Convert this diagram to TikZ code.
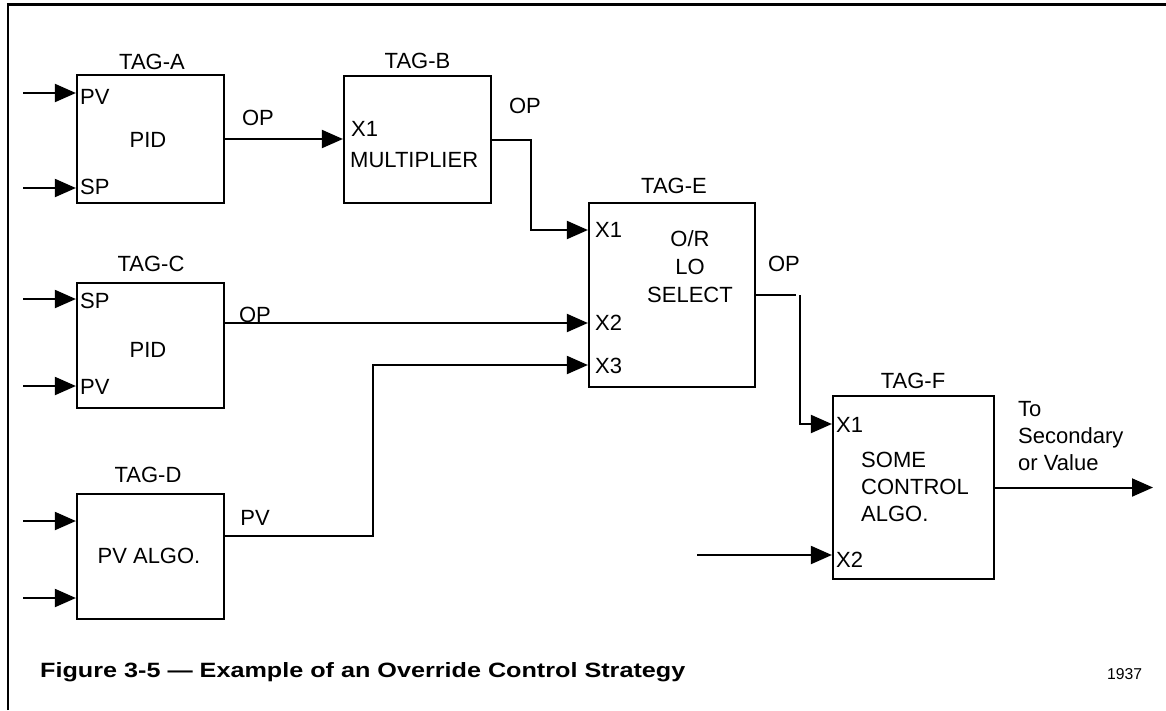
\documentclass[tikz,border=0pt]{standalone}
\usepackage{fontspec}
\usepackage{graphicx}
\setmainfont{Liberation Sans}
\usetikzlibrary{arrows.meta}
\begin{document}
\begin{tikzpicture}[x=1pt,y=-1pt,
  box/.style={draw,line width=2.2pt,inner sep=0pt},
  txt/.style={font=\fontsize{22}{27}\selectfont,inner sep=0pt,anchor=base},
  port/.style={txt,anchor=base west},
  wire/.style={line width=2pt},
  arr/.style={line width=2pt,-{Triangle[length=21pt,width=18pt]}},
  frame/.style={line width=2.6pt}]
\useasboundingbox (0,0) rectangle (1166,710);
% frame
\coordinate (f1) at (8,710);
\coordinate (f2) at (8,4);
\coordinate (f3) at (1166,4);
\draw[frame,line width=2.4pt] (f1) -- (8,3);
\draw[frame,line width=3pt] (6.8,4.5) -- (1166,4.5);
% boxes
\node[box,minimum width=147pt,minimum height=128pt] (A) at (150.5,139) {};
\node[box,minimum width=147pt,minimum height=127pt] (B) at (417.5,139.5) {};
\node[box,minimum width=147pt,minimum height=125pt] (C) at (150.5,345.5) {};
\node[box,minimum width=147pt,minimum height=125pt] (D) at (150.5,556.5) {};
\node[box,minimum width=166pt,minimum height=184pt] (E) at (672,295) {};
\node[box,minimum width=161pt,minimum height=183pt] (F) at (913.5,487.5) {};
% tag labels
\node[txt] (tA) at (152,69) {TAG-A};
\node[txt] (tB) at (417.5,68) {TAG-B};
\node[txt] (tC) at (151,271) {TAG-C};
\node[txt] (tD) at (148,482) {TAG-D};
\node[txt] (tE) at (674,193) {TAG-E};
\node[txt] (tF) at (913,388) {TAG-F};
% box contents
\node[txt] (pidA) at (148,147) {PID};
\node[txt] (pidC) at (148,357) {PID};
\node[txt] (algD) at (149,563) {PV ALGO.};
\node[port] (mul) at (350,167) {MULTIPLIER};
\node[txt] (e1) at (690,246) {O/R};
\node[txt] (e2) at (690,274) {LO};
\node[txt] (e3) at (690,302) {SELECT};
\node[port] (f1t) at (861,467) {SOME};
\node[port] (f2t) at (861,494) {CONTROL};
\node[port] (f3t) at (861,521) {ALGO.};
% port labels
\node[port] (pA1) at (80,104) {PV};
\node[port] (pA2) at (80,194) {SP};
\node[port] (pC1) at (80,308) {SP};
\node[port] (pC2) at (80,394) {PV};
\node[port] (pB1) at (351,136) {X1};
\node[port] (pE1) at (595,237) {X1};
\node[port] (pE2) at (595,330) {X2};
\node[port] (pE3) at (595,373) {X3};
\node[port] (pF1) at (836,432) {X1};
\node[port] (pF2) at (836,567) {X2};
% output labels
\node[txt] (oA) at (258,125) {OP};
\node[txt] (oB) at (525,113) {OP};
\node[txt] (oC) at (255,322) {OP};
\node[txt] (oD) at (255,525) {PV};
\node[txt] (oE) at (784,271) {OP};
\node[port] (to1) at (1018,416) {To};
\node[port] (to2) at (1018,443) {Secondary};
\node[port] (to3) at (1018,470) {or Value};
% input stubs
\coordinate (iA1) at (23,93);
\coordinate (iA2) at (23,188);
\coordinate (iC1) at (23,299);
\coordinate (iC2) at (23,386);
\coordinate (iD1) at (23,521);
\coordinate (iD2) at (23,598);
\coordinate (iF2) at (697,555);
\draw[arr] (iA1) -- (iA1 -| A.west);
\draw[arr] (iA2) -- (iA2 -| A.west);
\draw[arr] (iC1) -- (iC1 -| C.west);
\draw[arr] (iC2) -- (iC2 -| C.west);
\draw[arr] (iD1) -- (iD1 -| D.west);
\draw[arr] (iD2) -- (iD2 -| D.west);
\draw[arr] (iF2) -- (iF2 -| F.west);
% connections
\draw[arr] (A.east) -- (A.east -| B.west);
\coordinate (bE) at (531,230);
\draw[arr] (B.east) -| (bE) -- (bE -| E.west);
\coordinate (cO) at (224,323);
\draw[arr] (cO) -- (cO -| E.west);
\coordinate (dO) at (224,536);
\coordinate (dK) at (373,365);
\draw[arr] (dO) -| (dK) -- (dK -| E.west);
\coordinate (eG1) at (796,295);
\coordinate (eG2) at (800,295);
\coordinate (eK) at (800,424);
\draw[wire] (E.east) -- (eG1);
\draw[arr] (eG2) -- (eK) -- (eK -| F.west);
\coordinate (out) at (1153,487.5);
\draw[arr] (F.east) -- (out);
% caption
\node[anchor=base west,inner sep=0pt] (cap) at (40,677)
  {\resizebox{645pt}{15pt}{\bfseries Figure 3-5 — Example of an Override Control Strategy}};
\node[anchor=base west,inner sep=0pt,font=\fontsize{15.7}{18}\selectfont] (num) at (1107,679) {1937};
\end{tikzpicture}
\end{document}
